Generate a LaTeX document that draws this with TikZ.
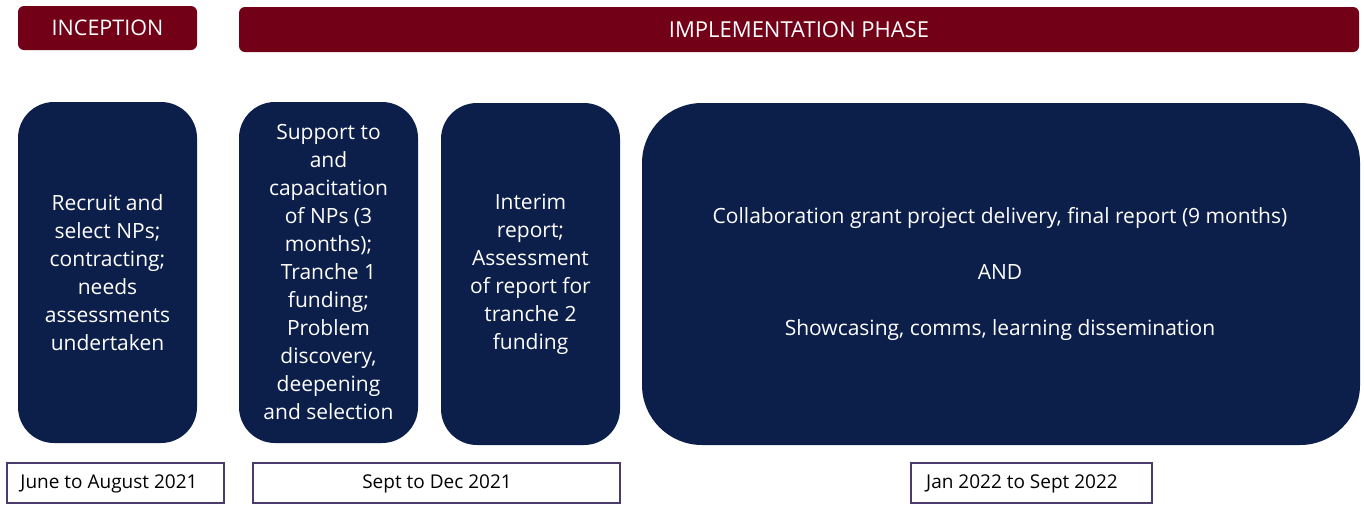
\documentclass[tikz,border=0pt]{standalone}
\usepackage{fontspec}
\setmainfont{Open Sans}
\definecolor{maroon}{HTML}{720017}
\definecolor{navy}{HTML}{0C1E4A}
\definecolor{frame}{HTML}{4B3B6B}
\begin{document}
\begin{tikzpicture}[x=1pt,y=-1pt,
  phaselabel/.style={text=white, font=\fontsize{21.5}{24}\selectfont},
  block/.style={text=white, align=center, font=\fontsize{21}{28}\selectfont},
  periodbox/.style={draw=frame, line width=1.2pt},
  periodlabel/.style={font=\fontsize{19}{22}\selectfont}]
\useasboundingbox (0,0) rectangle (1364,504);
% phase bars
\fill[maroon, rounded corners=6pt] (18,6) rectangle (197,50);
\node[phaselabel] (inc) at (107.5,28) {INCEPTION};
\fill[maroon, rounded corners=6pt] (239,7) rectangle (1359,52);
\node[phaselabel, font=\fontsize{22}{24}\selectfont] (imp) at (799,29.5) {IMPLEMENTATION PHASE};
% blocks
\fill[navy, rounded corners=36pt] (18,102) rectangle (197,443);
\node[block] (b1) at (107.5,273) {Recruit and\\select NPs;\\contracting;\\needs\\assessments\\undertaken};
\fill[navy, rounded corners=36pt] (239,102) rectangle (418,443);
\node[block] (b2) at (328.5,272) {Support to\\and\\capacitation\\of NPs (3\\months);\\Tranche 1\\funding;\\Problem\\discovery,\\deepening\\and selection};
\fill[navy, rounded corners=36pt] (441,103) rectangle (620,445);
\node[block] (b3) at (530.5,274) {Interim\\report;\\Assessment\\of report for\\tranche 2\\funding};
\fill[navy, rounded corners=60pt] (642,103) rectangle (1360,445);
\node[block] (b4) at (1000,274) {Collaboration grant project delivery, final report (9 months)\\[28pt]AND\\[28pt]Showcasing, comms, learning dissemination};
% periods
\draw[periodbox] (7,463) rectangle (224,503);
\node[periodlabel] (p1) at (109,483.5) {June to August 2021};
\draw[periodbox] (253,463) rectangle (620,503);
\node[periodlabel] (p2) at (437,483.5) {Sept to Dec 2021};
\draw[periodbox] (911,463) rectangle (1152,503);
\node[periodlabel] (p3) at (1022,483.5) {Jan 2022 to Sept 2022};
\end{tikzpicture}
\end{document}
